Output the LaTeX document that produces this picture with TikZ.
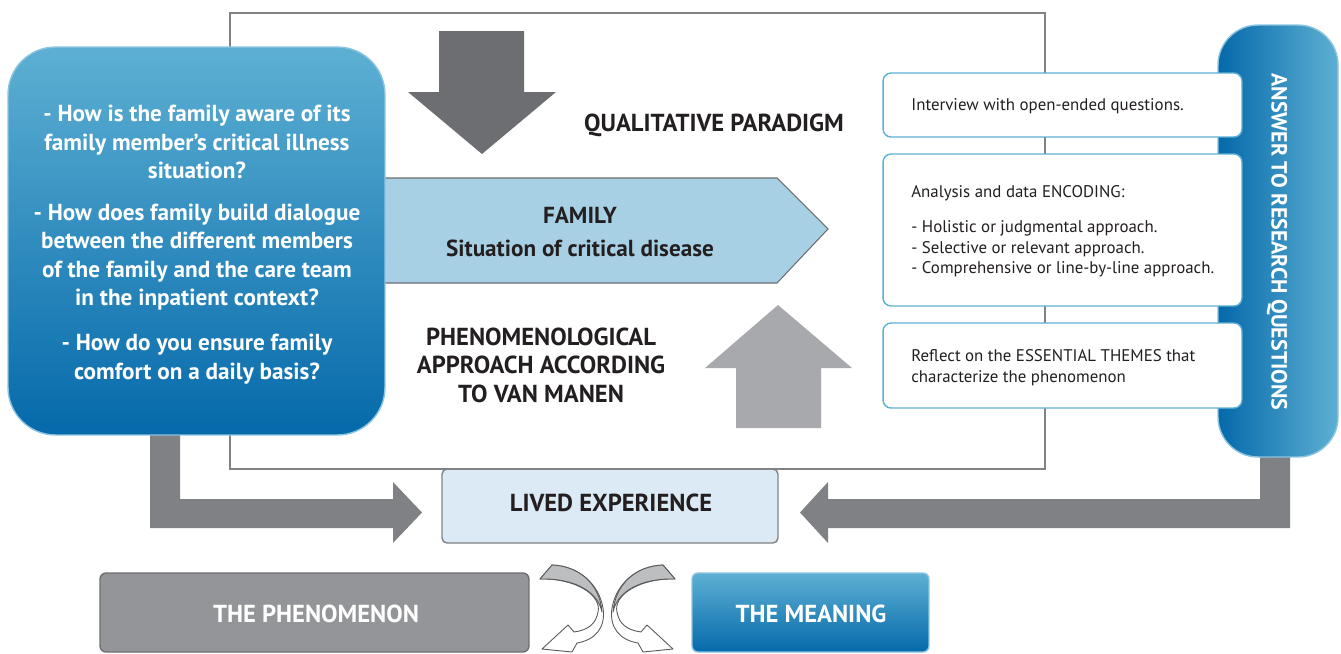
\documentclass[tikz,border=0pt]{standalone}
\usepackage{fontspec}
\setmainfont{PT Sans}
\definecolor{blueL}{HTML}{5DB0D3}
\definecolor{blueD}{HTML}{0569AA}
\definecolor{blueEdge}{HTML}{8CC4E0}
\definecolor{frameGray}{HTML}{808285}
\definecolor{darkArrow}{HTML}{6D6E71}
\definecolor{lightArrow}{HTML}{A7A9AC}
\definecolor{lArrow}{HTML}{808184}
\definecolor{famFill}{HTML}{A8D0E4}
\definecolor{livedFill}{HTML}{DBEAF4}
\definecolor{phenFill}{HTML}{939598}
\definecolor{curveFill}{HTML}{BCBEC0}
\definecolor{curveEdge}{HTML}{58595B}
\definecolor{txt}{HTML}{231F20}
\begin{document}
\begin{tikzpicture}[x=0.02cm,y=-0.02cm,
  hbold/.style={font=\bfseries\fontsize{13.2}{15}\selectfont, text=txt, inner sep=0pt},
  capbold/.style={font=\bfseries\fontsize{14}{16.2}\selectfont, text=txt, inner sep=0pt},
  qtext/.style={font=\bfseries\fontsize{13.2}{16.2}\selectfont, text=white, align=center, inner sep=0pt},
  stext/.style={font=\fontsize{9.6}{11.6}\selectfont, text=txt, align=left, anchor=west, inner sep=0pt},
  whitebox/.style={draw=blueL, line width=0.8pt, fill=white, rounded corners=0.16cm, minimum width=7.18cm, inner sep=0pt},
  curvearrow/.style={fill=white, draw=curveEdge, line width=0.5pt, line join=round},
  curveback/.style={fill=curveFill, draw=curveEdge, line width=0.5pt, line join=round}
]
\useasboundingbox (0,0) rectangle (1341,653);

% frame
\draw[frameGray, line width=1.1pt] (230,13) rectangle (1045,469);

% down and up arrows
\fill[darkArrow] (439,31) -- (524,31) -- (524,92) -- (556,92) -- (482,154) -- (408,92) -- (439,92) -- cycle;
\fill[lightArrow] (778,305) -- (852,368) -- (821,368) -- (821,428) -- (736,428) -- (736,368) -- (705,368) -- cycle;

% family pentagon
\filldraw[fill=famFill, draw=darkArrow, line width=0.6pt] (370,178) -- (777,178) -- (828,229) -- (777,283) -- (370,283) -- cycle;
\node[hbold] (fam1) at (580,215) {FAMILY};
\node[hbold] (fam2) at (580,248) {Situation of critical disease};

\node[capbold] (qual) at (714,125) {QUALITATIVE PARADIGM};
\node[capbold, align=center] (phen) at (541,365) {PHENOMENOLOGICAL\\APPROACH ACCORDING\\TO VAN MANEN};

% L arrows
\fill[lArrow] (150,425) -- (180,425) -- (180,499) -- (393,499) -- (393,482) -- (422,512.5) -- (393,543) -- (393,528) -- (150,528) -- cycle;
\fill[lArrow] (1290,445) -- (1290,528) -- (828,528) -- (828,543) -- (800,512.5) -- (828,482) -- (828,499) -- (1260,499) -- (1260,445) -- cycle;

% left question box
\node[draw=blueEdge, line width=0.8pt, rounded corners=0.95cm, top color=blueL, bottom color=blueD,
      minimum width=7.54cm, minimum height=7.76cm, inner sep=0pt] (qbox) at (196.5,241) {};
\node[qtext] (q1) at (197,142) {- How is the family aware of its\\family member’s critical illness\\situation?};
\node[qtext] (q2) at (197,257) {- How does family build dialogue\\between the different members\\of the family and the care team\\in the inpatient context?};
\node[qtext] (q3) at (197,359) {- How do you ensure family\\comfort on a daily basis?};

% right answer box
\node[draw=blueEdge, line width=0.8pt, rounded corners=0.8cm, left color=blueD, right color=blueL,
      minimum width=2.4cm, minimum height=8.64cm, inner sep=0pt] (abox) at (1278,241) {};
\node[rotate=-90, font=\bfseries\fontsize{12.5}{14}\selectfont, text=white, inner sep=0pt] (atext) at (1277,242) {ANSWER TO RESEARCH QUESTIONS};

% right white boxes
\node[whitebox, minimum height=1.28cm] (b1) at (1062.5,105) {};
\node[whitebox, minimum height=3.04cm] (b2) at (1062.5,230) {};
\node[whitebox, minimum height=1.7cm] (b3) at (1062.5,365.5) {};
\node[stext] (t1) at (911,106) {Interview with open-ended questions.};
\node[stext] (t2a) at (911,193) {Analysis and data ENCODING:};
\node[stext] (t2b) at (911,249) {- Holistic or judgmental approach.\\- Selective or relevant approach.\\- Comprehensive or line-by-line approach.};
\node[stext] (t3) at (911,367.5) {Reflect on the ESSENTIAL THEMES that\\characterize the phenomenon};

% lived experience
\node[draw=frameGray, line width=0.8pt, fill=livedFill, rounded corners=0.1cm,
      minimum width=6.72cm, minimum height=1.48cm, inner sep=0pt] (lived) at (610,506) {};
\draw[frameGray, line width=1.1pt] (441.5,469) -- (778.5,469);
\node[capbold] (livedt) at (611,503) {LIVED EXPERIENCE};

% bottom boxes
\node[draw=darkArrow, line width=0.8pt, fill=phenFill, rounded corners=0.12cm,
      minimum width=8.58cm, minimum height=1.58cm, inner sep=0pt] (phenbox) at (314.5,612.5) {};
\node[capbold, text=white] (phent) at (316,614) {THE PHENOMENON};
\node[draw=blueEdge, line width=0.8pt, top color=blueL, bottom color=blueD, rounded corners=0.12cm,
      minimum width=4.74cm, minimum height=1.58cm, inner sep=0pt] (meanbox) at (810.5,612.5) {};
\node[capbold, text=white] (meant) at (811,614) {THE MEANING};

% curved arrows (twisted ribbons)
\foreach \sx/\sh in {1/0, -1/1215} {
\begin{scope}[shift={(\sh,0)}, xscale=\sx]
\path[curvearrow] (540,579) .. controls (575,578) and (602,595) .. (598,612)
   .. controls (596,624) and (588,630) .. (574,632) -- (568,625) -- (542,649) -- (572,652) -- (577,643)
   .. controls (595,640) and (606,628) .. (603,608) .. controls (599,585) and (580,566) .. (552,565) -- cycle;
\path[curveback] (540,579) .. controls (575,578) and (598,592) .. (602,612)
   .. controls (600,585) and (580,566) .. (552,565) -- cycle;
\end{scope}
}
\end{tikzpicture}
\end{document}
